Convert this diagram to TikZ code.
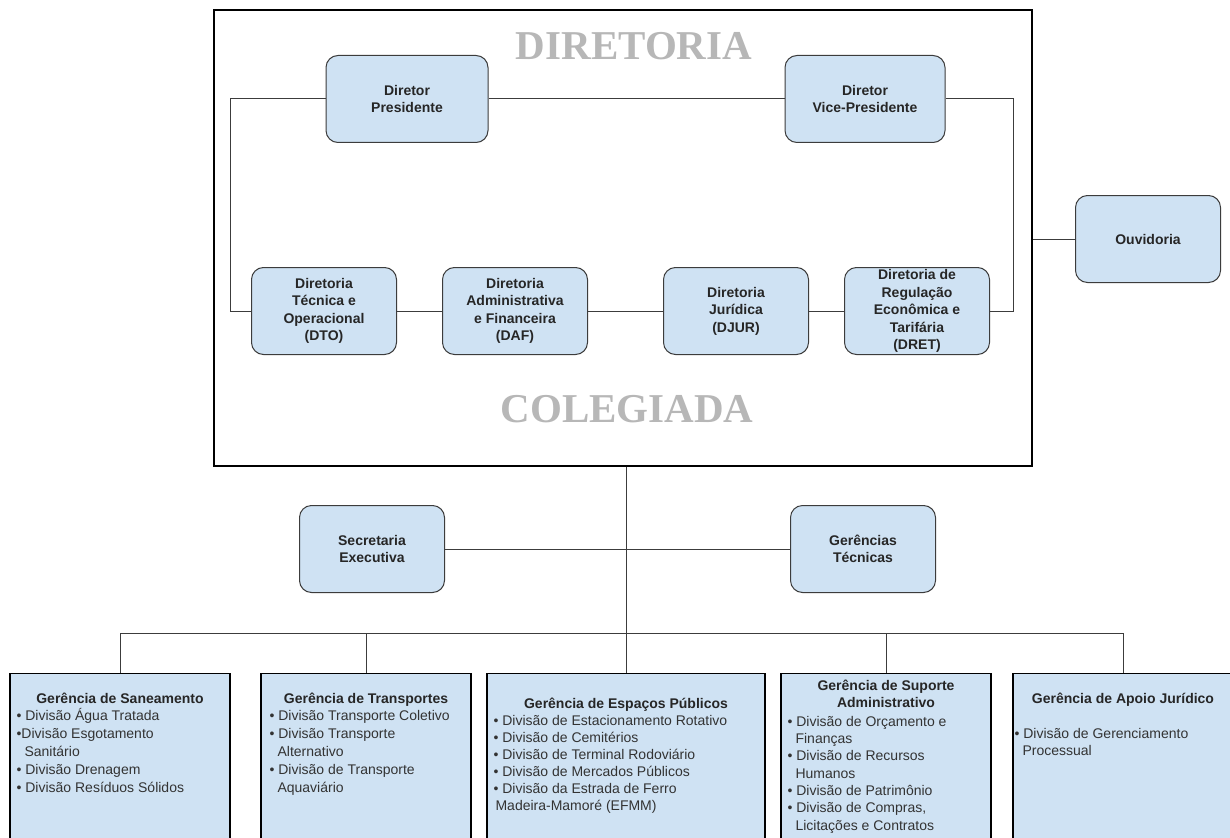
\documentclass[tikz,border=0pt]{standalone}
\usepackage{fontspec}
\setmainfont{Liberation Sans}
\newfontfamily\titlefont{Liberation Serif}
\usetikzlibrary{positioning}
\definecolor{boxblue}{HTML}{CFE2F3}
\definecolor{titlegray}{HTML}{B7B7B7}
\definecolor{linegray}{HTML}{3C3C3C}
\newcommand{\itm}{\textbullet\ }
\newcommand{\cont}{\hspace*{8pt}}

\begin{document}
\begin{tikzpicture}
    [
    x=1pt, y=-1pt,
    rbox/.style={draw=linegray, line width=1pt, fill=boxblue, rounded corners=12pt, minimum width=145pt, minimum height=87pt, inner sep=1pt, align=center, text=black!85, font=\bfseries\fontsize{14}{17.5}\selectfont},
    gbox/.style={draw=black, line width=1.3pt, fill=boxblue, minimum height=190pt, anchor=north},
    gtitle/.style={anchor=north, inner sep=0pt, align=center, text=black!85, font=\bfseries\fontsize{14}{17.5}\selectfont},
    glist/.style={anchor=north west, inner sep=0pt, align=left, text=black!80, font=\fontsize{14}{17.5}\selectfont},
    bigtitle/.style={text=titlegray, font=\titlefont\bfseries\fontsize{41}{41}\selectfont},
    link/.style={draw=linegray, line width=1pt}
    ]
    \useasboundingbox (0,0) rectangle (1230,837);
    \clip (0,0) rectangle (1230,837);
    \fill [white] (0,0) rectangle (1230,837);

    \node (colegiado) at (623,238) [draw, line width=1.2pt, minimum width=818pt, minimum height=456pt] {};
    \node (tdir) at (634,46) [bigtitle] {DIRETORIA};
    \node (tcol) at (627,409) [bigtitle] {COLEGIADA};

    \node (pres) at (407,99) [rbox, minimum width=162pt] {Diretor\\Presidente};
    \node (vice) at (865,99) [rbox, minimum width=160pt] {Diretor\\Vice-Presidente};
    \node (dto) at (324,311) [rbox] {Diretoria\\Técnica e\\Operacional\\(DTO)};
    \node (daf) at (515,311) [rbox] {Diretoria\\Administrativa\\e Financeira\\(DAF)};
    \node (djur) at (736,311) [rbox] {Diretoria\\Jurídica\\(DJUR)};
    \node (dret) at (917,311) [rbox] {Diretoria de\\Regulação\\Econômica e\\Tarifária\\(DRET)};
    \node (ouv) at (1148,239) [rbox] {Ouvidoria};
    \node (secex) at (372,549) [rbox] {Secretaria\\Executiva};
    \node (gtec) at (863,549) [rbox] {Gerências\\Técnicas};

    \coordinate (loopl) at (230,311);
    \coordinate (loopr) at (1013,311);
    \draw [link] (pres) to (vice);
    \draw [link] (pres.west) -| (loopl) -- (dto.west);
    \draw [link] (vice.east) -| (loopr) -- (dret.east);
    \draw [link] (dto) to (daf);
    \draw [link] (daf) to (djur);
    \draw [link] (djur) to (dret);
    \draw [link] (ouv.west) -- (ouv.west -| colegiado.east);
    \draw [link] (secex) to (gtec);

    \node (gsan) at (120,673) [gbox, minimum width=220pt] {};
    \node (gtra) at (366,673) [gbox, minimum width=210pt] {};
    \node (gesp) at (626,673) [gbox, minimum width=278pt] {};
    \node (gadm) at (886,673) [gbox, minimum width=210pt] {};
    \node (gjur) at (1123,673) [gbox, minimum width=220pt] {};

    \coordinate (bus) at (0,633);
    \draw [link] (gesp.north |- colegiado.south) -- (gesp.north);
    \draw [link] (gsan.north) -- (gsan.north |- bus) -| (gjur.north);
    \draw [link] (gtra.north) -- (gtra.north |- bus);
    \draw [link] (gadm.north) -- (gadm.north |- bus);

    \node (tsan) at ([yshift=-18pt]gsan.north) [gtitle] {\strut Gerência de Saneamento};
    \node (lsan) at ([xshift=7pt,yshift=-35pt]gsan.north west) [glist, font=\fontsize{14}{18}\selectfont]
      {\strut\itm Divisão Água Tratada\\\textbullet Divisão Esgotamento\\\cont Sanitário\\\itm Divisão Drenagem\\\itm Divisão Resíduos Sólidos};

    \node (ttra) at ([yshift=-18pt]gtra.north) [gtitle] {\strut Gerência de Transportes};
    \node (ltra) at ([xshift=9pt,yshift=-35pt]gtra.north west) [glist, font=\fontsize{14}{18}\selectfont]
      {\strut\itm Divisão Transporte Coletivo\\\itm Divisão Transporte\\\cont Alternativo\\\itm Divisão de Transporte\\\cont Aquaviário};

    \node (tesp) at ([yshift=-23pt]gesp.north) [gtitle] {\strut Gerência de Espaços Públicos};
    \node (lesp) at ([xshift=7pt,yshift=-40pt]gesp.north west) [glist, font=\fontsize{14}{17}\selectfont]
      {\strut\itm Divisão de Estacionamento Rotativo\\\itm Divisão de Cemitérios\\\itm Divisão de Terminal Rodoviário\\\itm Divisão de Mercados Públicos\\\itm Divisão da Estrada de Ferro\\\hspace*{2pt}Madeira-Mamoré (EFMM)};

    \node (tadm) at ([yshift=-5pt]gadm.north) [gtitle] {\strut Gerência de Suporte\\Administrativo};
    \node (ladm) at ([xshift=7pt,yshift=-41pt]gadm.north west) [glist, font=\fontsize{14}{17.3}\selectfont]
      {\strut\itm Divisão de Orçamento e\\\cont Finanças\\\itm Divisão de Recursos\\\cont Humanos\\\itm Divisão de Patrimônio\\\itm Divisão de Compras,\\\cont Licitações e Contratos};

    \node (tjur) at ([yshift=-18pt]gjur.north) [gtitle] {\strut Gerência de Apoio Jurídico};
    \node (ljur) at ([xshift=2pt,yshift=-53pt]gjur.north west) [glist, font=\fontsize{14}{17}\selectfont]
      {\strut\itm Divisão de Gerenciamento\\\cont Processual};
  \end{tikzpicture}
\end{document}
